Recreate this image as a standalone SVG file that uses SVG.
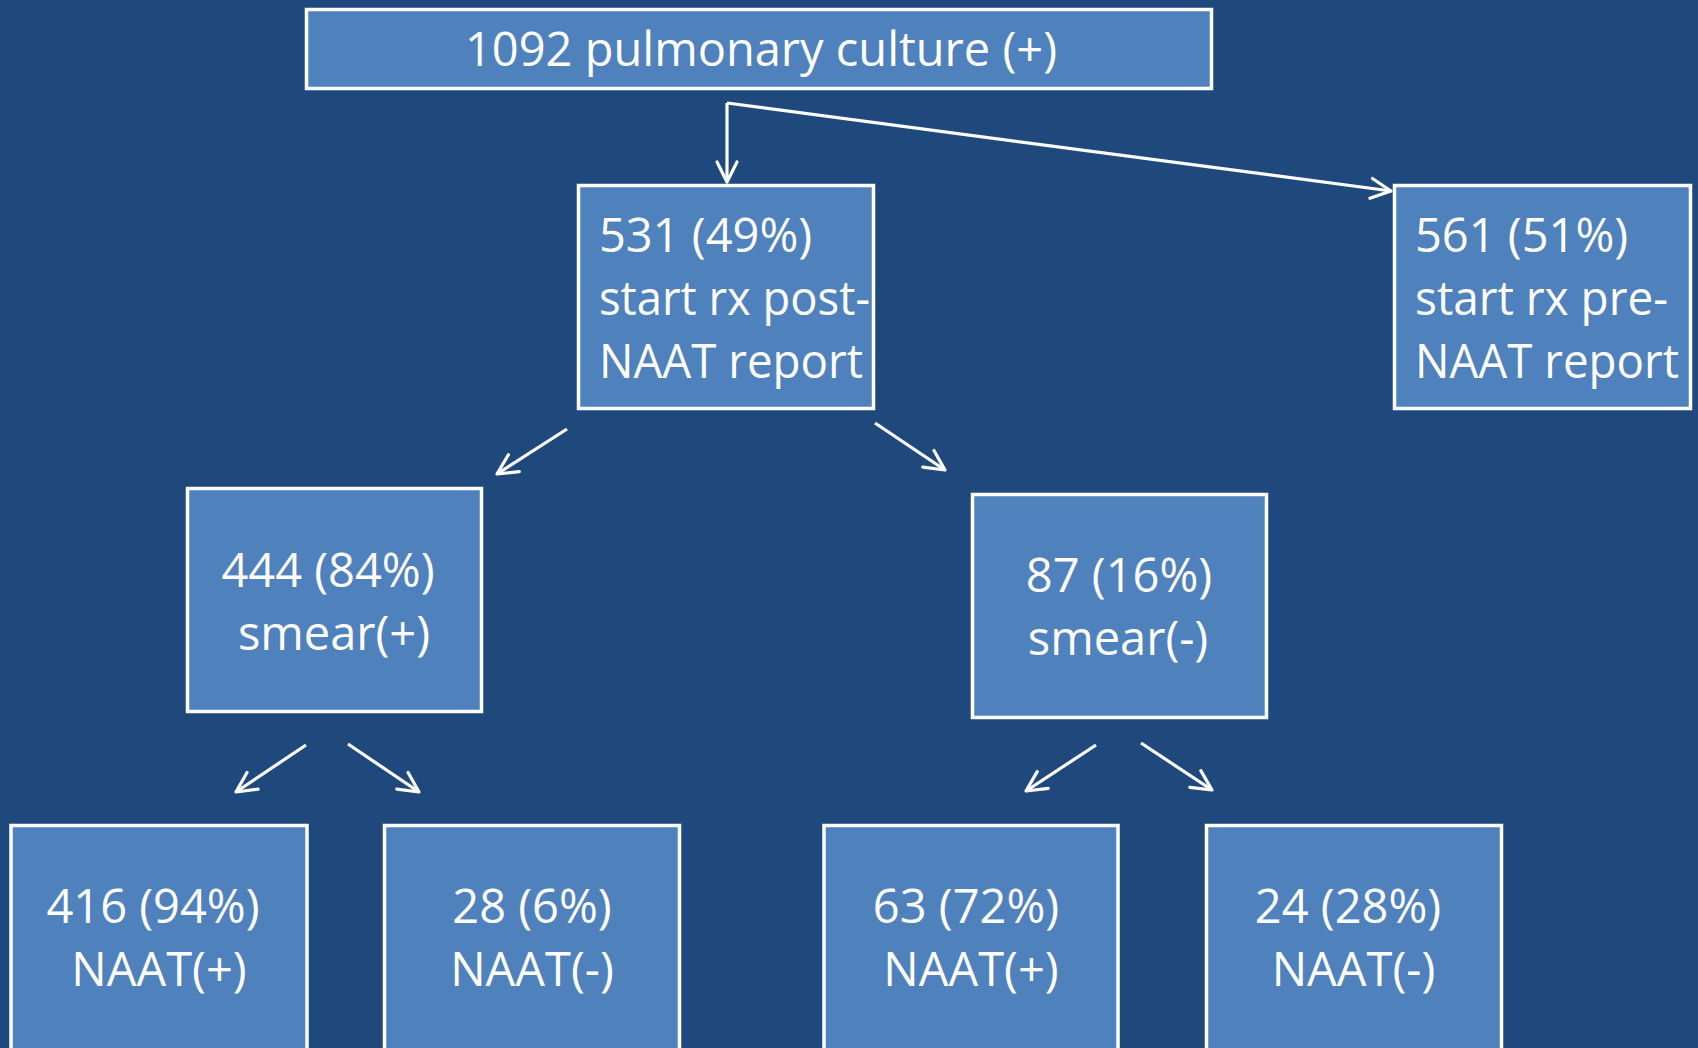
<svg xmlns="http://www.w3.org/2000/svg" width="1698" height="1048" viewBox="0 0 1698 1048">
<style>
.box{fill:#4F81BD;stroke:#FFFFFF;stroke-width:3.5}
.t{font-family:"Open Sans","Noto Sans",sans-serif;font-size:47px;fill:#FFFFFF}
.c{text-anchor:middle}
.ln{fill:none;stroke:#FFFFFF;stroke-width:3.2;marker-end:url(#arr)}
</style>
<defs>
<marker id="arr" markerUnits="userSpaceOnUse" markerWidth="30" markerHeight="30" viewBox="-25 -15 30 30" refX="0" refY="0" orient="auto">
<path d="M-20,-10 L0,0 L-20,10" fill="none" stroke="#FFFFFF" stroke-width="3.2" stroke-linejoin="round" stroke-linecap="round"/>
</marker>
</defs>
<rect x="0" y="0" width="1698" height="1048" fill="#1F497D"/>
<g id="connectors">
<path class="ln" d="M727,103 L727,182"/>
<path class="ln" d="M727,103 L1391,191"/>
<path class="ln" d="M567,429 L497,474"/>
<path class="ln" d="M875,423 L945,470"/>
<path class="ln" d="M306,745 L236,792"/>
<path class="ln" d="M348,744 L419,792"/>
<path class="ln" d="M1096,745 L1026,791"/>
<path class="ln" d="M1141,743 L1212,790"/>
</g>
<g id="n-root">
<rect class="box" x="306.5" y="9.5" width="905" height="79"/>
<text class="t" x="465" y="66">1092 pulmonary culture (+)</text>
</g>
<g id="n-post">
<rect class="box" x="578.5" y="185.5" width="295" height="223"/>
<text class="t" x="599" y="252">531 (49%)</text>
<text class="t" x="599" y="315" textLength="271" lengthAdjust="spacingAndGlyphs">start rx post-</text>
<text class="t" x="599" y="378" textLength="264" lengthAdjust="spacingAndGlyphs">NAAT report</text>
</g>
<g id="n-pre">
<rect class="box" x="1394.5" y="185.5" width="296" height="223"/>
<text class="t" x="1415" y="252">561 (51%)</text>
<text class="t" x="1415" y="315" textLength="253" lengthAdjust="spacingAndGlyphs">start rx pre-</text>
<text class="t" x="1415" y="378" textLength="264" lengthAdjust="spacingAndGlyphs">NAAT report</text>
</g>
<g id="n-smearpos">
<rect class="box" x="187.5" y="488.5" width="294" height="223"/>
<text class="t c" x="328" y="587">444 (84%)</text>
<text class="t c" x="334" y="650">smear(+)</text>
</g>
<g id="n-smearneg">
<rect class="box" x="972.5" y="494.5" width="294" height="223"/>
<text class="t c" x="1119" y="592">87 (16%)</text>
<text class="t c" x="1118" y="655">smear(-)</text>
</g>
<g id="n-pp">
<rect class="box" x="11" y="825.5" width="296" height="250"/>
<text class="t c" x="153" y="923">416 (94%)</text>
<text class="t c" x="159" y="986">NAAT(+)</text>
</g>
<g id="n-pn">
<rect class="box" x="384.5" y="825.5" width="295" height="250"/>
<text class="t c" x="532" y="923">28 (6%)</text>
<text class="t c" x="532" y="986">NAAT(-)</text>
</g>
<g id="n-np">
<rect class="box" x="824" y="825.5" width="294" height="250"/>
<text class="t c" x="966" y="923">63 (72%)</text>
<text class="t c" x="971" y="986">NAAT(+)</text>
</g>
<g id="n-nn">
<rect class="box" x="1206.5" y="825.5" width="295" height="250"/>
<text class="t c" x="1348" y="923">24 (28%)</text>
<text class="t c" x="1353.5" y="986">NAAT(-)</text>
</g>
</svg>
